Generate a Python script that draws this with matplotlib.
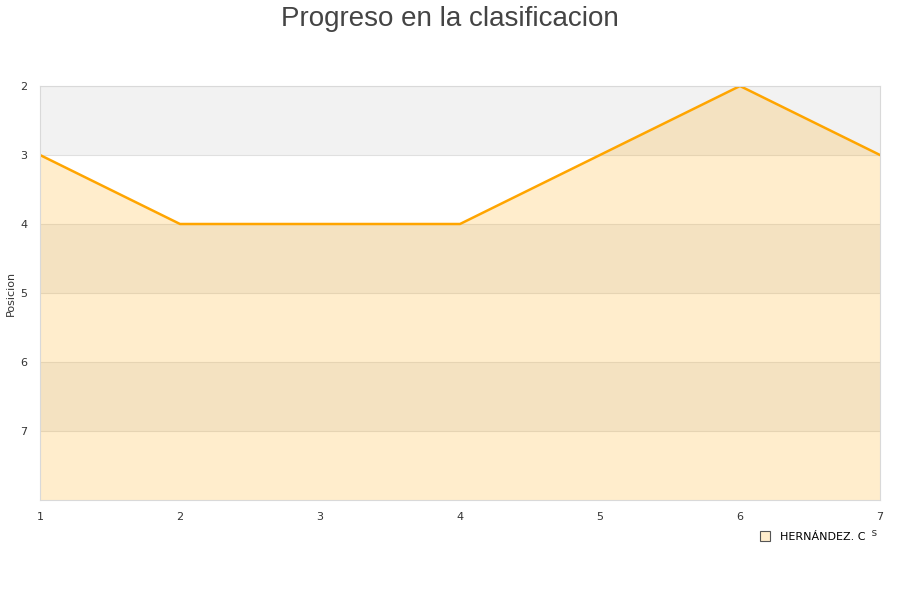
import matplotlib
matplotlib.use("Agg")
import matplotlib.pyplot as plt

jornadas = [1, 2, 3, 4, 5, 6, 7]
posiciones = [3, 4, 4, 4, 3, 2, 3]
jugador = "HERNÁNDEZ. C"

fig = plt.figure(figsize=(9, 6), dpi=100)
ax = fig.add_axes([40 / 900, 1 - 500 / 600, 840 / 900, 414 / 600])

ymin, ymax = 2, 8
# bandas alternas
for y in range(ymin, ymax):
    color = "#f2f2f2" if (y - ymin) % 2 == 0 else "white"
    ax.axhspan(y, y + 1, color=color, zorder=0, lw=0)
    ax.axhline(y, color="#e0e0e0", lw=0.8, zorder=0.5)

ax.fill_between(jornadas, posiciones, ymax, color="orange", alpha=0.2, lw=0, zorder=1)
ax.plot(jornadas, posiciones, color="orange", lw=1.8, zorder=2, label=jugador)

ax.set_xlim(1, 7)
ax.set_ylim(ymax, ymin)
ax.set_yticks([2, 3, 4, 5, 6, 7])
ax.set_xticks(jornadas)
ax.tick_params(axis="y", length=0, labelsize=8, colors="#333333", pad=9)
ax.tick_params(axis="x", length=0, labelsize=8, colors="#333333", pad=9)
for s in ax.spines.values():
    s.set_color("#d9d9d9")

fig.text(11 / 900, 1 - 293 / 600, "Posicion", rotation=90, ha="center", va="center",
         fontsize=8, color="#333333")
fig.text(0.5, 0.99, "Progreso en la clasificacion", ha="center", va="top",
         fontsize=20, color="#444444", family="Liberation Sans")

# etiqueta del eje x, casi tapada por la leyenda
fig.text(878 / 900, 1 - 533 / 600, "Jornadas", ha="right", va="center", fontsize=8,
         color="#333333", zorder=1)

h = plt.Line2D([], [], marker="s", ls="", markersize=7, markerfacecolor="#ffedcc",
               markeredgecolor="#555555", markeredgewidth=0.8)
leg = fig.legend([h], [jugador], loc="upper right", bbox_to_anchor=(0.968, 1 - 526 / 600),
                 frameon=True, fontsize=8, handletextpad=0.4, borderpad=0.5,
                 borderaxespad=0)
leg.get_frame().set_facecolor("white")
leg.get_frame().set_edgecolor("white")
leg.get_frame().set_alpha(1)
leg.set_zorder(10)

fig.savefig("out.png")
